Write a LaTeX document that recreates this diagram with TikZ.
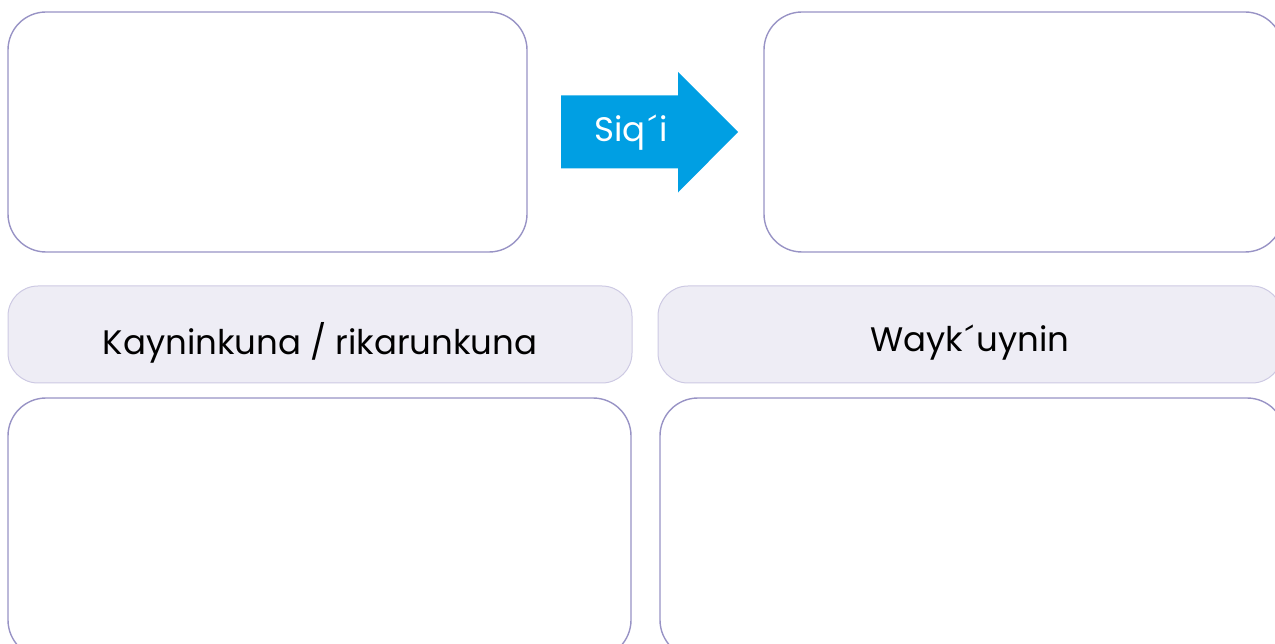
\documentclass[tikz,border=0pt]{standalone}
\usepackage{fontspec}
\setmainfont{Poppins}
\usepackage{tikz}
\usetikzlibrary{positioning}
\definecolor{panelline}{RGB}{152,147,197}
\definecolor{headfill}{RGB}{238,237,245}
\definecolor{headline}{RGB}{205,201,227}
\definecolor{cueblue}{RGB}{0,159,227}
\newcommand{\acc}{\kern2.5pt´\kern2.5pt}

\begin{document}
\begin{tikzpicture}[x=1pt, y=-1pt,
  every node/.style = {rectangle, inner sep=0pt},
  panel/.style    = {draw=panelline, line width=1.4pt, fill=white, rounded corners=38pt},
  header/.style   = {draw=headline, line width=1pt, fill=headfill, rounded corners=30pt},
  headtext/.style = {font=\fontsize{34}{40}\selectfont, yshift=-8pt},
]
\useasboundingbox (0,0) rectangle (1275,644);
\clip (0,0) rectangle (1275,644);
% Top row: before and after
\node[panel, minimum width=519pt, minimum height=240pt] (before) at (267.5,132) {};
\node[panel, minimum width=519pt, minimum height=240pt] (after) at (1023.5,132) {};
% Arrow between them
\coordinate (cuetail) at (561,132);
\coordinate (cuetip) at (738,132);
\fill[cueblue] (cuetail) ++(0,-36.5) -- ++(117,0) -- ++(0,-23.5) -- (cuetip)
  -- ++(-60,60.5) -- ++(0,-24) -- ++(-117,0) -- cycle;
\node[text=white, font=\fontsize{34}{40}\selectfont] (siqi) at (631,133) {Siq\acc i};
% Headers
\node[header, minimum width=624pt, minimum height=97pt,
  label={[headtext]center:Kayninkuna / rikarunkuna}] (leftlabel) at (320,334.5) {};
\node[header, minimum width=624pt, minimum height=97pt,
  label={[headtext]center:Wayk\acc uynin}] (rightlabel) at (970,334.5) {};
% Bottom row
\node[panel, minimum width=623pt, minimum height=260pt] (leftnotes) at (319.5,528) {};
\node[panel, minimum width=625pt, minimum height=260pt] (rightnotes) at (972.5,528) {};
\end{tikzpicture}
\end{document}
